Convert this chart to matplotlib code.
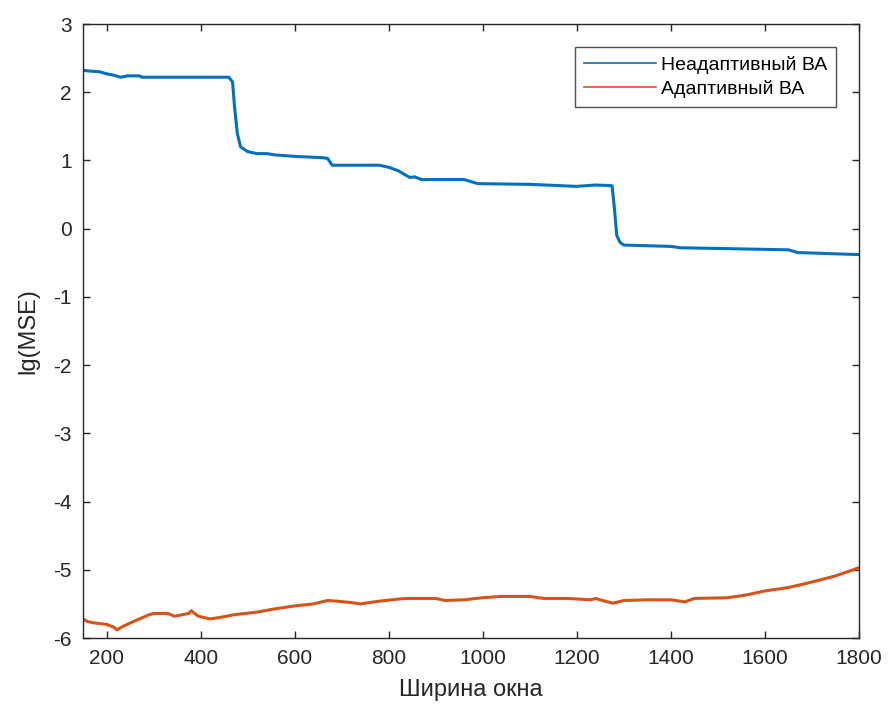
import matplotlib
matplotlib.use("Agg")
import matplotlib.pyplot as plt

# lg(MSE) vs window width for the non-adaptive and adaptive estimators
blue_x = [150, 165, 185, 200, 215, 230, 245, 270, 275, 460,
          468, 472, 478, 485, 500, 520, 540, 560, 600, 660,
          670, 680, 700, 780, 800, 820, 835, 845, 855, 870,
          960, 990, 1100, 1200, 1240, 1275, 1280, 1285, 1292, 1300,
          1400, 1420, 1500, 1650, 1670, 1800]
blue_y = [2.32, 2.31, 2.30, 2.27, 2.25, 2.22, 2.24, 2.24, 2.22, 2.22,
          2.15, 1.8, 1.4, 1.2, 1.13, 1.1, 1.1, 1.08, 1.06, 1.04,
          1.03, 0.93, 0.93, 0.93, 0.9, 0.85, 0.79, 0.75, 0.76, 0.72,
          0.72, 0.66, 0.65, 0.62, 0.64, 0.63, 0.3, -0.1, -0.2, -0.24,
          -0.26, -0.28, -0.29, -0.31, -0.35, -0.38]

orange_x = [150, 160, 175, 200, 215, 222, 235, 260, 290, 300,
            330, 345, 360, 375, 380, 395, 420, 440, 470, 520,
            560, 600, 640, 670, 690, 720, 740, 780, 820, 840,
            900, 920, 960, 1000, 1040, 1100, 1130, 1180, 1230, 1240,
            1260, 1277, 1300, 1350, 1400, 1430, 1450, 1520, 1560, 1600,
            1650, 1700, 1750, 1800]
orange_y = [-5.72, -5.76, -5.78, -5.80, -5.84, -5.88, -5.83, -5.75, -5.66, -5.64,
            -5.64, -5.68, -5.66, -5.64, -5.60, -5.68, -5.72, -5.70, -5.66, -5.62,
            -5.57, -5.53, -5.5, -5.45, -5.46, -5.48, -5.5, -5.46, -5.43, -5.42,
            -5.42, -5.45, -5.44, -5.41, -5.39, -5.39, -5.42, -5.42, -5.44, -5.42,
            -5.46, -5.49, -5.45, -5.44, -5.44, -5.47, -5.42, -5.41, -5.37, -5.31,
            -5.26, -5.18, -5.09, -4.97]

labels = ["Неадаптивный ВА", "Адаптивный ВА"]
xticks = [200, 400, 600, 800, 1000, 1200, 1400, 1600, 1800]
yticks = [-6, -5, -4, -3, -2, -1, 0, 1, 2, 3]

plt.rcParams['font.family'] = ['Liberation Sans', 'DejaVu Sans']
plt.rcParams['axes.unicode_minus'] = False

fig = plt.figure(figsize=(8.91, 7.06), dpi=100, facecolor="#FFFFFF")
ax = fig.add_axes([0.0932, 0.0963, 0.8708, 0.8697])

ax.plot(blue_x, blue_y, color='#0072BD', linewidth=2.2, label=labels[0])
ax.plot(orange_x, orange_y, color='#D95319', linewidth=2.2, label=labels[1])

ax.set_xlim(150, 1800)
ax.set_ylim(-6, 3)
ax.set_xticks(xticks)
ax.set_yticks(yticks)
ax.tick_params(direction='in', length=5, width=1, top=True, right=True,
               labelsize=15, colors='#262626', pad=8)
for s in ax.spines.values():
    s.set_color('#262626')
    s.set_linewidth(1)

ax.set_xlabel("Ширина окна", fontsize=17, color='#262626', labelpad=8)
ax.set_ylabel("lg(MSE)", fontsize=17, color='#262626', labelpad=10)

leg = ax.legend(loc='upper right', fontsize=14, frameon=True, fancybox=False,
                edgecolor='#262626', handlelength=3.7, handletextpad=0.25,
                borderpad=0.45, labelspacing=0.3, borderaxespad=1.2)
leg.get_frame().set_linewidth(1)
for h in leg.get_lines():
    h.set_linewidth(1.2)

fig.savefig("out.png", dpi=100, facecolor="#FFFFFF")
